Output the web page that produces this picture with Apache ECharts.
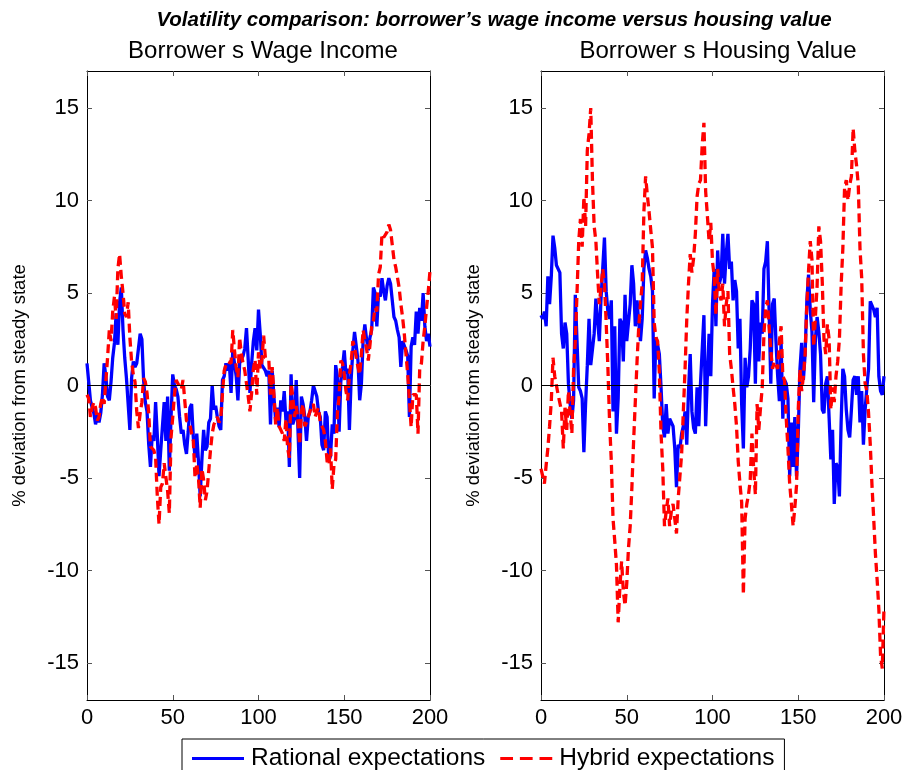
<!DOCTYPE html>
<html>
<head>
<meta charset="utf-8">
<script src="https://cdn.jsdelivr.net/npm/echarts@6/dist/echarts.min.js"></script>
<style>
  html, body { margin: 0; padding: 0; background: #fff; }
  #main { width: 907px; height: 770px; }
</style>
</head>
<body>
<div id="main"></div>
<script>
// periods 0..200, one value per period
var wageRational = [
  1.2, 0.2, -0.8, -1.2, -1.5, -2.1, -1.6, -2.0, -1.5, -0.5,
  1.2, 0.5, -0.6, -0.8, 0.2, 1.5, 2.3, 3.9, 2.2, 4.5,
  5.3, 3.0, 1.5, 0.4, 0.4, -2.4, 0.4, 1.3, 1.0, 1.2,
  1.2, 2.8, 2.5, 0.3, -0.9, -1.4, -3.2, -4.4, -2.7, -3.0,
  -0.9, -2.7, -4.9, -3.5, -2.2, -0.9, -3.0, -0.6, -4.6, -1.7,
  0.6, 0.0, -0.2, -0.6, -1.7, -2.6, -2.4, -3.2, -3.7, -2.5,
  -1.2, -1.0, -2.8, -3.9, -2.6, -4.1, -6.0, -4.0, -2.4, -3.5,
  -3.3, -2.0, -1.8, 0.0, -1.3, -1.1, -1.7, -2.2, -2.4, 0.3,
  0.5, 1.2, 0.8, 1.2, -0.4, 1.9, 1.2, 0.5, -0.8, 1.2,
  1.4, 1.6, 2.0, 3.1, 1.4, -0.4, 1.2, 2.4, 3.1, 1.9,
  4.1, 2.8, 1.1, 1.0, 0.8, 0.5, 0.8, -2.1, 0.8, -0.6,
  -1.9, -1.2, -2.25, -0.8, -1.4, -0.3, -1.9, -1.4, -4.4, 0.6,
  -2.1, -1.8, 0.3, 0.2, -5.0, -0.6, -1.0, -1.7, -3.0, -1.7,
  -1.4, -0.8, 0.0, 0.0, -0.6, -1.4, -1.7, -3.2, -3.5, -1.4,
  -1.7, -4.1, -3.8, -2.1, -2.6, 1.1, 0.5, -2.5, 0.2, 1.0,
  1.9, 0.6, 0.9, -2.4, 0.3, 1.9, 2.9, 3.0, 1.35, -0.8,
  0.1, 2.4, 3.3, 2.5, 1.9, 2.6, 3.0, 5.3, 5.0, 3.2,
  5.0, 4.8, 5.8, 5.1, 4.6, 5.4, 5.8, 5.5, 4.6, 3.7,
  3.5, 3.0, 2.6, 1.0, 2.4, 2.4, 1.9, 1.6, -1.7, 2.1,
  2.6, 2.2, 4.0, 2.8, 4.2, 3.5, 5.0, 3.2, 2.4, 2.8,
  2.1
];
var wageHybrid = [
  -0.5, -0.7, -1.7, -1.2, -0.9, -1.2, -1.9, -1.7, -1.0, -0.6,
  -1.0, -1.0, 1.5, 3.0, 2.4, 4.0, 4.8, 3.6, 6.3, 7.1,
  5.9, 5.0, 3.9, 3.7, 4.5, 2.6, 1.3, 0.6, 0.2, -1.4,
  -2.3, -1.5, -0.9, 0.4, 0.2, -0.4, -1.5, -3.3, -3.2, -3.5,
  -3.9, -6.0, -7.5, -5.5, -5.3, -4.2, -4.2, -5.7, -6.9, -2.8,
  -1.7, -0.5, 0.3, 0.1, 0.0, -0.2, 0.3, -0.8, -1.9, -2.0,
  -2.1, -2.6, -3.0, -5.0, -4.2, -5.0, -6.6, -4.5, -5.1, -6.2,
  -5.7, -4.6, -3.5, -2.6, -2.1, -1.9, -1.7, -2.0, -1.8, -0.4,
  0.8, 1.1, 1.3, 1.4, 1.2, 3.0, 1.9, 1.0, 0.45, 2.6,
  1.7, 1.2, 0.8, 0.1, -0.6, -1.4, -0.4, 0.9, 1.4, -0.5,
  1.8, 0.9, 1.4, 2.7, 1.5, 1.4, 1.4, -0.5, 1.0, -0.5,
  -2.1, -1.2, -2.2, -2.4, -2.6, -3.0, -1.8, -3.4, -3.9, 0.1,
  -0.6, -1.7, -1.1, -1.9, -3.2, -1.4, -1.0, -2.2, -2.0, -1.9,
  -1.4, -1.2, -1.0, -1.7, -1.4, -1.2, -2.0, -2.0, -2.4, -3.0,
  -4.1, -4.3, -3.4, -5.6, -4.3, -4.0, -1.5, -0.6, 1.35, 1.2,
  0.6, -0.3, -0.8, 0.6, 1.2, 2.4, 2.1, 1.5, 1.0, 0.6,
  1.7, 3.0, 2.5, 2.0, 1.35, 2.2, 3.2, 3.5, 4.2, 4.0,
  6.0, 6.4, 8.2, 8.0, 8.0, 8.3, 8.7, 8.4, 7.6, 6.8,
  6.4, 6.3, 5.3, 4.4, 3.7, 2.8, 1.7, 0.6, -0.8, -2.25,
  -0.5, -0.6, -0.5, -2.6, 0.9, 1.2, 2.4, 3.2, 4.2, 5.1,
  6.2
];
var houseRational = [
  3.8, 3.6, 4.0, 3.2, 5.9, 4.4, 5.9, 8.1, 7.45, 6.5,
  6.5, 6.1, 2.8, 2.0, 3.4, 2.8, 0.1, -1.0, -1.8, -0.8,
  4.9, 2.4, -0.1, -0.3, -0.7, -3.6, -1.0, 1.1, 3.6, 1.1,
  1.2, 2.8, 4.7, 4.6, 2.4, 4.7, 4.8, 8.0, 5.1, 4.0,
  3.6, 4.6, -1.4, 3.2, -2.6, -0.7, 3.6, 3.4, 1.3, 4.9,
  2.4, 2.4, 4.4, 6.5, 5.5, 3.2, 4.6, 3.4, 2.4, 3.6,
  6.3, 7.3, 6.9, 6.3, 5.9, 5.1, -0.7, 2.6, 2.2, 1.7,
  -0.1, -2.2, -2.8, -1.0, -2.6, -1.8, -2.0, -2.2, -3.4, -5.5,
  -3.2, -3.4, -2.6, -2.2, -1.4, -3.2, -0.3, 1.7, -1.4, -2.3,
  -2.6, -0.1, -2.2, 0.1, 0.1, 3.8, -2.2, 0.5, 2.8, 0.5,
  4.4, 6.3, 3.2, 7.3, 5.5, 5.9, 8.2, 5.5, 7.1, 8.2,
  6.3, 6.7, 4.6, 5.7, 5.1, 2.0, 3.6, -1.0, -3.4, 1.5,
  -0.1, 0.5, 2.0, 4.6, 4.4, 0.1, 5.1, 1.3, 3.4, 2.8,
  6.3, 6.7, 7.8, 4.0, 0.1, 4.4, 4.7, 2.4, 0.5, -0.85,
  2.4, -1.8, 0.3, 0.1, -0.7, -4.9, -2.0, -4.4, -1.7, -4.9,
  -2.6, 0.9, 2.3, 0.3, 1.7, 4.55, 6.0, 4.1, 2.9, -0.9,
  2.5, 3.7, 2.9, 1.7, -1.3, -1.5, 0.1, 0.5, -1.75, -4.0,
  -2.4, -6.4, -4.2, -4.4, -6.0, -2.0, 0.9, 0.5, -1.3, -2.4,
  -2.8, -1.3, 0.3, 0.5, -0.5, 0.5, -2.0, -0.3, -3.2, -1.3,
  -0.1, 0.9, 4.55, 4.6, 4.1, 3.7, 4.2, 0.5, -0.3, -0.5,
  0.5
];
var houseHybrid = [
  -4.5, -4.9, -5.3, -4.3, -3.4, -2.2, -0.85, 1.5, 0.5, 0.4,
  -0.5, -0.4, -1.4, -3.4, -1.2, -2.4, -0.3, -1.5, -2.6, 0.9,
  2.4, 5.0, 7.8, 9.0, 7.5, 10.2, 8.6, 12.7, 13.6, 15.0,
  11.1, 8.6, 7.8, 6.0, 4.4, 5.3, 6.3, 5.5, 3.4, 1.0,
  -2.0, -4.1, -7.2, -8.4, -9.7, -12.8, -10.9, -9.5, -11.1, -11.9,
  -10.7, -8.8, -7.6, -5.5, -3.0, -0.85, 1.3, 3.2, 4.4, 5.5,
  9.4, 11.3, 10.3, 9.4, 8.4, 7.45, 3.4, 2.6, 2.4, 0.7,
  -2.6, -4.5, -7.6, -6.8, -6.1, -7.6, -6.8, -6.4, -7.2, -8.0,
  -6.1, -4.9, -3.7, -1.4, 0.9, 3.6, 5.5, 7.1, 6.1, 6.9,
  8.2, 10.2, 10.9, 11.1, 13.0, 14.2, 10.5, 9.2, 7.8, 8.8,
  6.7, 5.9, 3.8, 6.3, 5.0, 4.6, 5.5, 3.2, 4.4, 5.1,
  1.7, 0.9, -0.1, -1.0, -2.2, -4.1, -5.3, -6.3, -11.3, -7.2,
  -6.4, -5.9, -5.1, -2.6, -4.5, -5.9, -1.0, -2.4, -1.2, -0.1,
  2.8, 4.2, 4.6, 3.2, 1.9, 0.9, 1.3, 1.1, 0.9, 2.4,
  3.2, 0.5, 0.3, -1.8, -3.4, -5.3, -6.4, -7.6, -6.6, -5.4,
  -1.3, 0.9, -0.3, 0.5, 1.7, 4.35, 6.2, 7.8, 6.8, 2.1,
  3.7, 5.4, 8.6, 7.8, 5.6, 2.5, 1.7, 3.3, 2.5, -1.3,
  -0.1, -0.9, 0.5, 1.3, 2.5, 5.4, 7.4, 10.65, 11.1, 10.0,
  10.85, 11.3, 13.9, 12.7, 11.9, 10.85, 7.4, 5.8, 1.7, 0.1,
  -0.3, -1.5, -3.2, -5.4, -7.2, -9.1, -10.5, -12.1, -14.6, -15.3,
  -12.0
];
var yTicks = [-15, -10, -5, 0, 5, 10, 15];
var panelTitles = ['Borrower s Wage Income', 'Borrower s Housing Value'];
var seriesNames = ['Rational expectations', 'Hybrid expectations'];
var yName = '% deviation from steady state';

var font = 'Liberation Sans, Arial, Helvetica, sans-serif';
var blue = '#0000ff', red = '#ff0000';

function pairs(arr) {
  return arr.map(function (v, i) { return [i, v]; });
}

var gridLefts = [87, 541];
var grids = [], xAxes = [], yAxes = [], series = [];

var boxLine = {show: true, onZero: false, lineStyle: {color: '#000', width: 1}};
var boxTick = {inside: true, length: 5, lineStyle: {color: '#555'}};

gridLefts.forEach(function (left, g) {
  grids.push({left: left, top: 71, width: 343, height: 629, show: false});
  // bottom axis with labels, top axis only closes the box
  xAxes.push({
    type: 'value', gridIndex: g, min: 0, max: 200, interval: 50,
    axisLine: boxLine, axisTick: boxTick,
    axisLabel: {color: '#000', fontSize: 22, fontFamily: font, margin: 7},
    splitLine: {show: false}
  });
  xAxes.push({
    type: 'value', gridIndex: g, min: 0, max: 200, interval: 50, position: 'top',
    axisLine: boxLine, axisTick: boxTick,
    axisLabel: {show: false}, splitLine: {show: false}
  });
  yAxes.push({
    type: 'value', gridIndex: g, min: -17, max: 17,
    name: yName, nameLocation: 'middle', nameGap: 58, nameRotate: 90,
    nameTextStyle: {color: '#000', fontSize: 18.5, fontFamily: font},
    axisLine: boxLine,
    axisTick: {inside: true, length: 5, customValues: yTicks, lineStyle: {color: '#555'}},
    axisLabel: {color: '#000', fontSize: 22, fontFamily: font, margin: 8, customValues: yTicks},
    splitLine: {show: false}
  });
  yAxes.push({
    type: 'value', gridIndex: g, min: -17, max: 17, position: 'right',
    axisLine: boxLine,
    axisTick: {inside: true, length: 5, customValues: yTicks, lineStyle: {color: '#555'}},
    axisLabel: {show: false}, splitLine: {show: false}
  });
});

var panels = [[wageRational, wageHybrid], [houseRational, houseHybrid]];
panels.forEach(function (p, g) {
  series.push({
    name: seriesNames[0], type: 'line', xAxisIndex: g * 2, yAxisIndex: g * 2,
    data: pairs(p[0]), symbol: 'none', z: 3,
    lineStyle: {color: blue, width: 3.3},
    itemStyle: {color: blue},
    markLine: {
      silent: true, symbol: 'none', label: {show: false},
      lineStyle: {color: '#000', width: 1, type: 'solid'},
      data: [{yAxis: 0}]
    }
  });
  series.push({
    name: seriesNames[1], type: 'line', xAxisIndex: g * 2, yAxisIndex: g * 2,
    data: pairs(p[1]), symbol: 'none', z: 4,
    lineStyle: {color: red, width: 3.3, type: [9, 5]},
    itemStyle: {color: red}
  });
});

echarts.init(document.getElementById('main'), null, {renderer: 'canvas'}).setOption({
  animation: false,
  backgroundColor: '#fff',
  title: [
    {
      text: 'Volatility comparison: borrower\u2019s wage income versus housing value',
      left: 489, top: 5, textAlign: 'center',
      textStyle: {fontSize: 20.5, fontWeight: 'bold', fontStyle: 'italic', color: '#000', fontFamily: font}
    },
    {
      text: panelTitles[0], left: 258, top: 34, textAlign: 'center',
      textStyle: {fontSize: 24, fontWeight: 'normal', color: '#000', fontFamily: font}
    },
    {
      text: panelTitles[1], left: 713, top: 34, textAlign: 'center',
      textStyle: {fontSize: 24, fontWeight: 'normal', color: '#000', fontFamily: font}
    }
  ],
  legend: {
    data: [
      {name: seriesNames[0], icon: 'path://M0,0H52V3H0Z', itemStyle: {color: blue}},
      {name: seriesNames[1], icon: 'path://M0,0H13V3H0Z M20,0H33V3H20Z M40,0H53V3H40Z', itemStyle: {color: red}}
    ],
    left: 182, top: 739,
    orient: 'horizontal',
    itemWidth: 52, itemHeight: 3, itemGap: 15,
    padding: [7, 10, 20, 10],
    borderColor: '#000', borderWidth: 1,
    backgroundColor: '#fff',
    textStyle: {fontSize: 24.5, color: '#000', fontFamily: font, padding: [0, 0, 0, 2]}
  },
  grid: grids,
  xAxis: xAxes,
  yAxis: yAxes,
  series: series
});
</script>
</body>
</html>
